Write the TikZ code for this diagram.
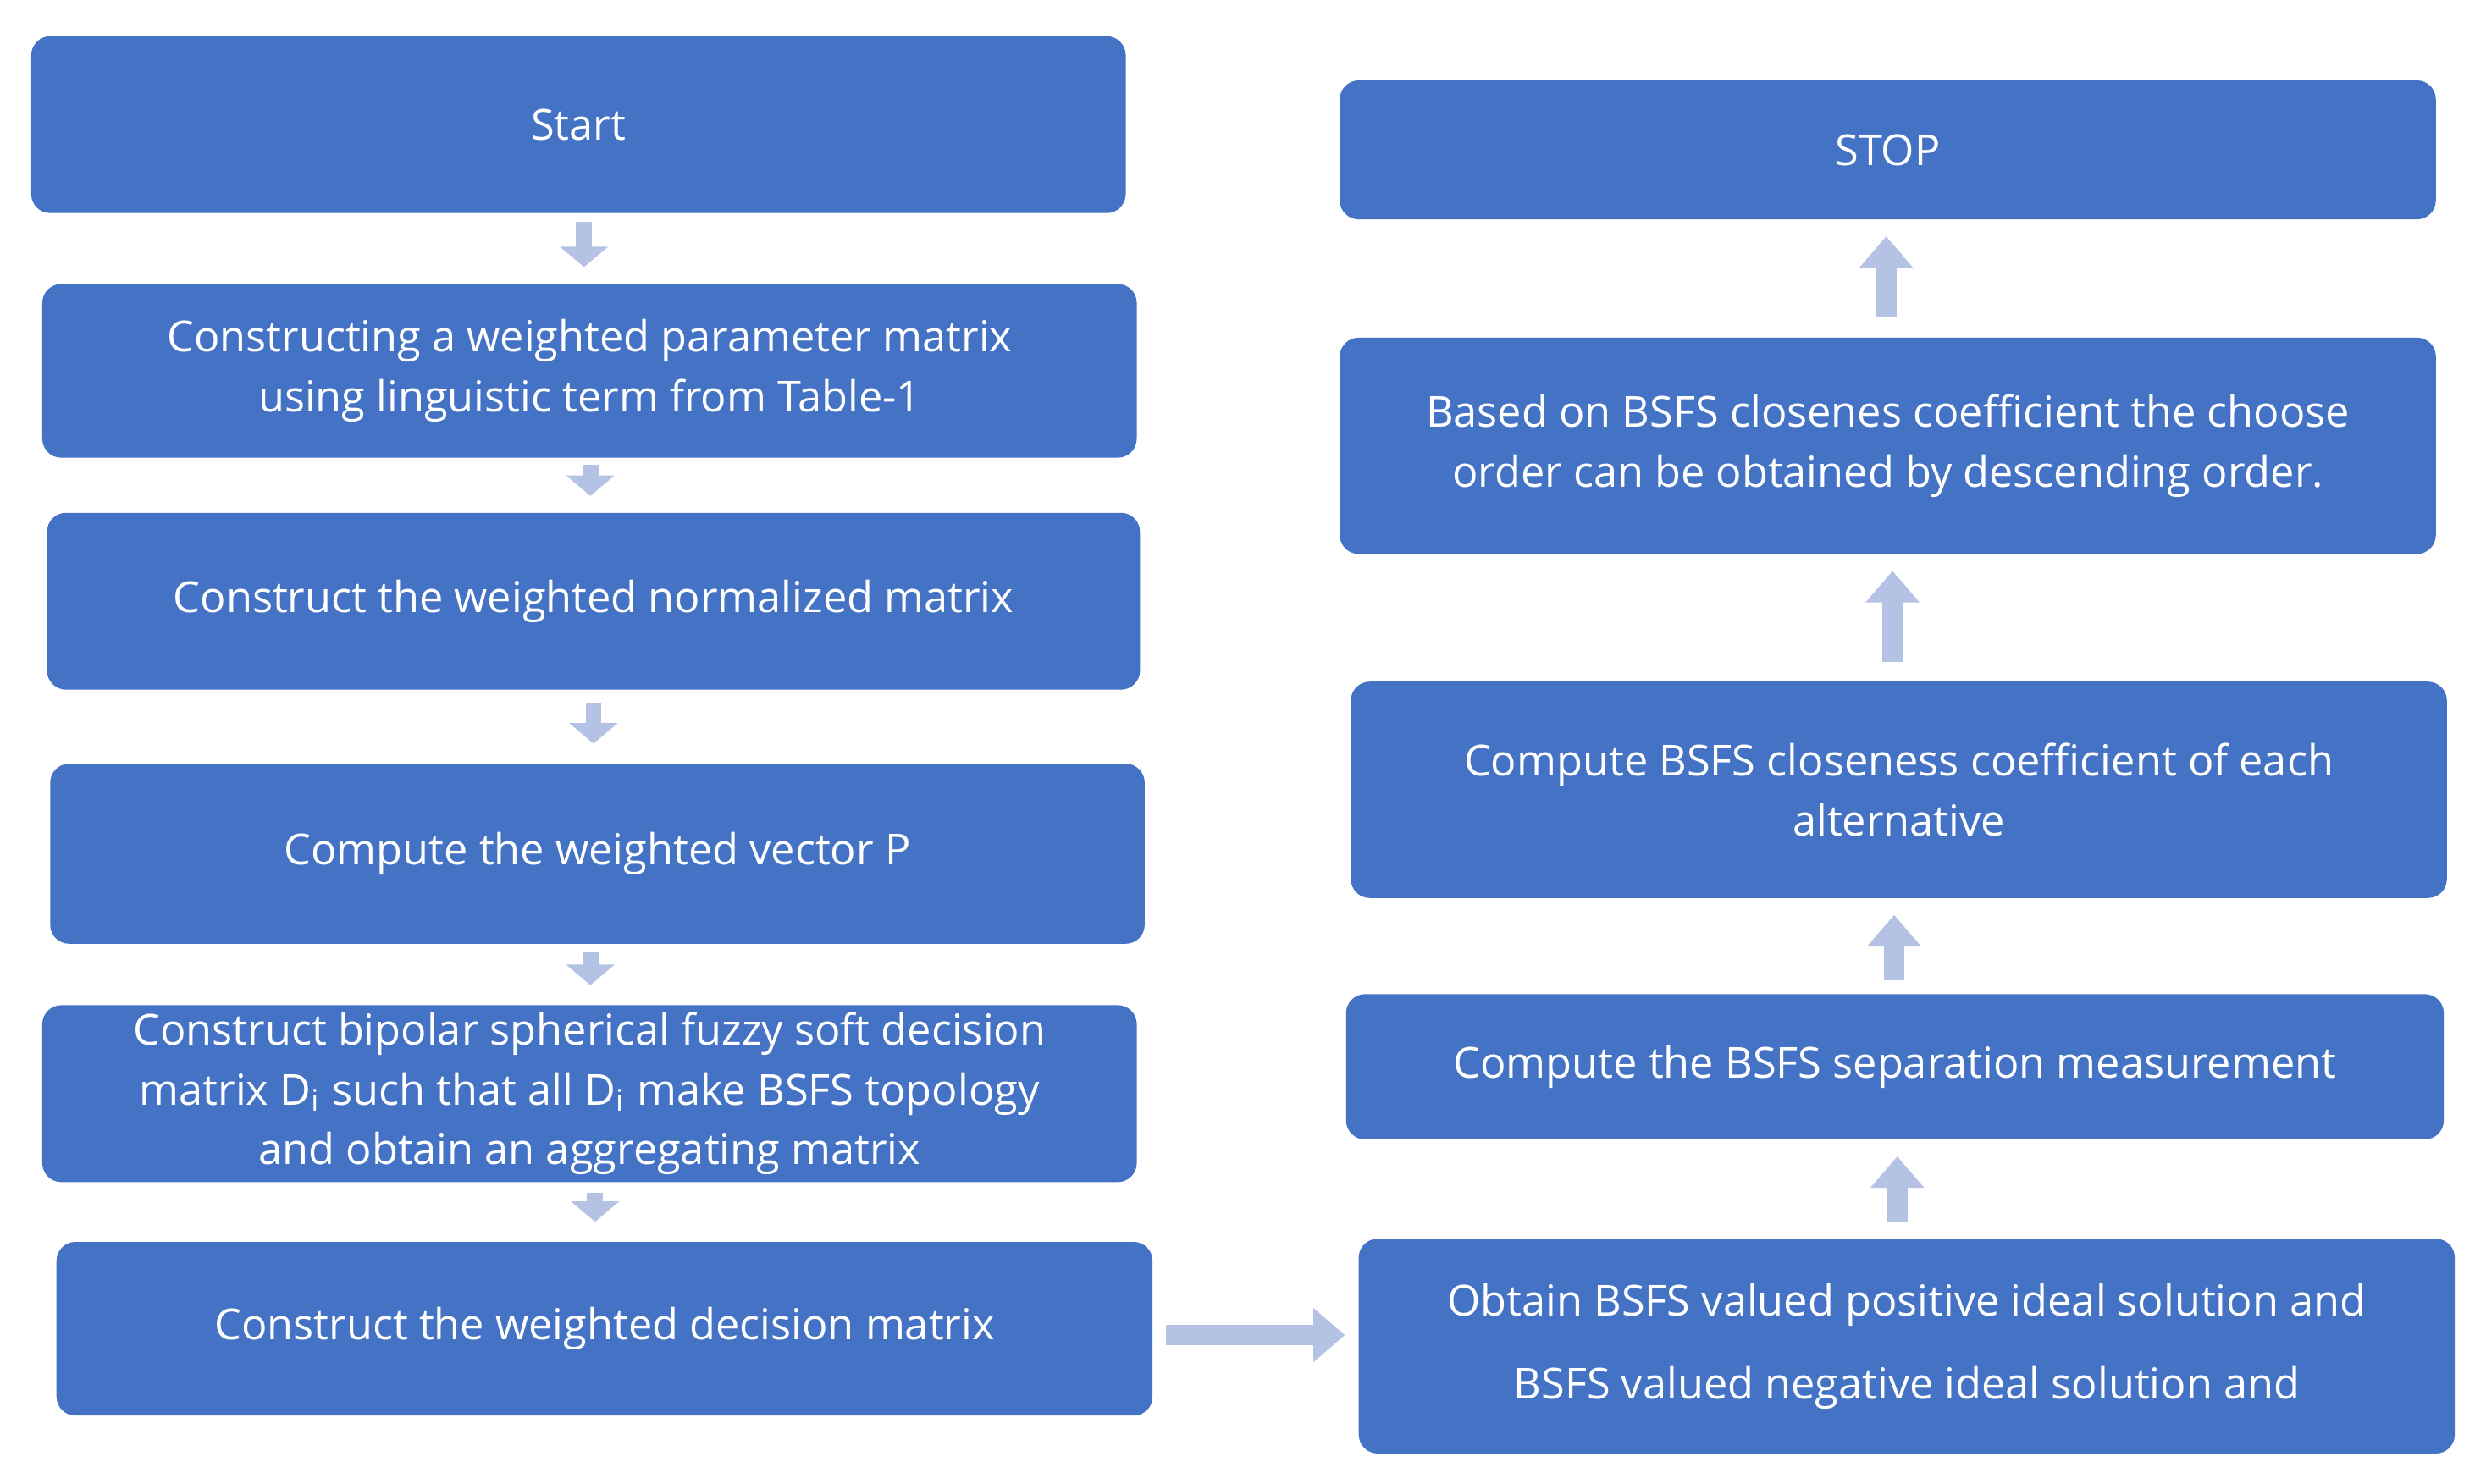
\documentclass[tikz,border=0pt]{standalone}
\usepackage{fontspec}
\setmainfont{Open Sans}
\usetikzlibrary{arrows.meta}
\definecolor{boxc}{HTML}{4472C4}
\definecolor{arrc}{HTML}{B4C3E4}
\begin{document}
\begin{tikzpicture}[x=0.01cm,y=-0.01cm,
 box/.style={fill=boxc,draw=none,rounded corners=0.12cm,text=white,align=center,
   font=\fontsize{7.7pt}{10.8pt}\selectfont,inner sep=0pt},
 fat/.style={draw=arrc,line width=0.1cm,-{Triangle[width=0.3cm,length=0.13cm]}},
 fatb/.style={draw=arrc,line width=0.13cm,-{Triangle[width=0.33cm,length=0.2cm]}}]
\useasboundingbox (0,0) rectangle (1568,940);
\node[box,minimum width=6.93cm,minimum height=1.12cm] (s) at (366.5,79) {Start};
\node[box,minimum width=6.93cm,minimum height=1.10cm] (b2) at (373.5,235) {Constructing a weighted parameter matrix\\using linguistic term from Table-1};
\node[box,minimum width=6.92cm,minimum height=1.12cm] (b3) at (376,381) {Construct the weighted normalized matrix};
\node[box,minimum width=6.93cm,minimum height=1.14cm] (b4) at (378.5,541) {Compute the weighted vector P};
\node[box,minimum width=6.93cm,minimum height=1.12cm] (b5) at (373.5,693) {Construct bipolar spherical fuzzy soft decision\\matrix D\textsubscript{i} such that all D\textsubscript{i} make BSFS topology\\and obtain an aggregating matrix};
\node[box,minimum width=6.94cm,minimum height=1.10cm] (b6) at (383,842) {Construct the weighted decision matrix};
\node[box,minimum width=6.94cm,minimum height=0.88cm] (stop) at (1196,95) {STOP};
\node[box,minimum width=6.94cm,minimum height=1.37cm] (r2) at (1196,282.5) {Based on BSFS closenes coefficient the choose\\order can be obtained by descending order.};
\node[box,minimum width=6.94cm,minimum height=1.37cm] (r3) at (1203,500.5) {Compute BSFS closeness coefficient of each\\alternative};
\node[box,minimum width=6.95cm,minimum height=0.92cm] (r4) at (1200.5,676) {Compute the BSFS separation measurement};
\node[box,minimum width=6.94cm,minimum height=1.36cm,font=\fontsize{7.7pt}{15pt}\selectfont] (r5) at (1208,853) {Obtain BSFS valued positive ideal solution and\\BSFS valued negative ideal solution and};
\draw[fat,shorten <=0.05cm,shorten >=0.1cm] (s.south -| 370,0) -- (b2.north -| 370,0);
\draw[fat,shorten <=0.04cm,shorten >=0.1cm] (b2.south -| 374,0) -- (b3.north -| 374,0);
\draw[fat,shorten <=0.08cm,shorten >=0.12cm] (b3.south -| 376,0) -- (b4.north -| 376,0);
\draw[fat,shorten <=0.04cm,shorten >=0.12cm] (b4.south -| 374,0) -- (b5.north -| 374,0);
\draw[fat,shorten <=0.06cm,shorten >=0.12cm] (b5.south -| 377,0) -- (b6.north -| 377,0);
\draw[fatb,shorten <=0.08cm,shorten >=0.08cm] (b6.east |- 0,846) -- (r5.west |- 0,846);
\draw[fatb,shorten <=0.1cm,shorten >=0.1cm] (r5.north -| 1202,0) -- (r4.south -| 1202,0);
\draw[fatb,shorten <=0.08cm,shorten >=0.1cm] (r4.north -| 1200,0) -- (r3.south -| 1200,0);
\draw[fatb,shorten <=0.12cm,shorten >=0.1cm] (r3.north -| 1199,0) -- (r2.south -| 1199,0);
\draw[fatb,shorten <=0.12cm,shorten >=0.1cm] (r2.north -| 1195,0) -- (stop.south -| 1195,0);
\end{tikzpicture}
\end{document}
